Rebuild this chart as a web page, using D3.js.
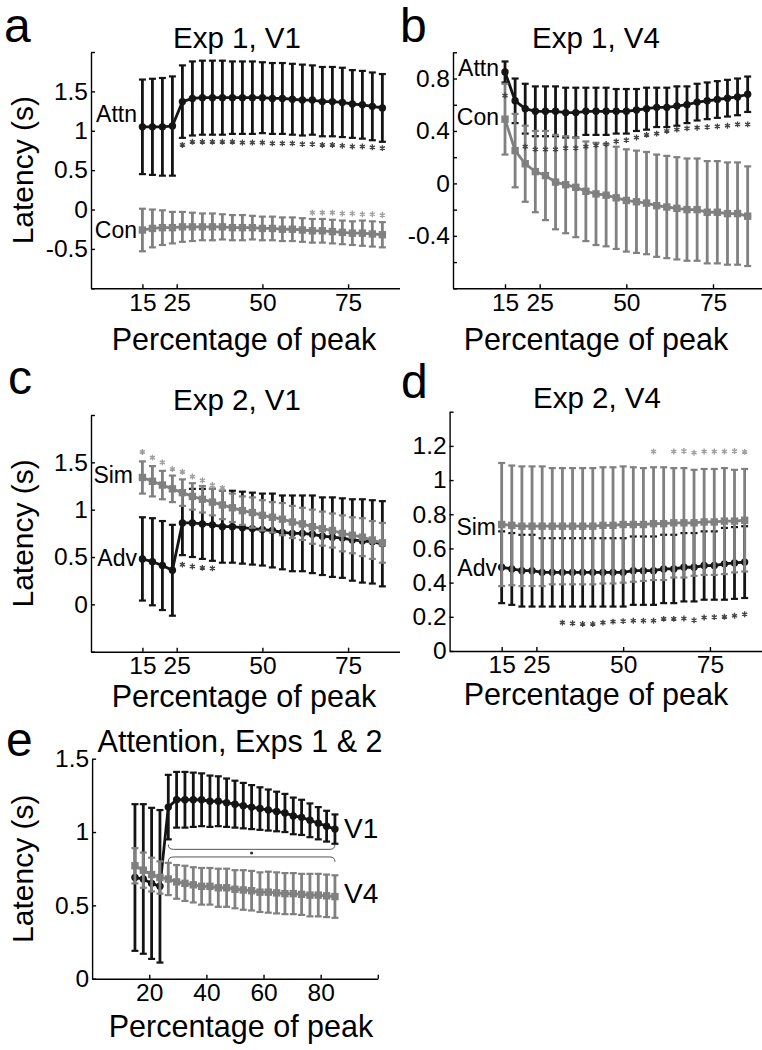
<!DOCTYPE html>
<html><head><meta charset="utf-8">
<script src="https://cdn.jsdelivr.net/npm/d3@7"></script>
<style>
body{margin:0;background:#fff}
svg{display:block}
text{font-family:"Liberation Sans",Arial,Helvetica,sans-serif;fill:#000}
</style>
</head><body>
<svg id="fig" width="762" height="1050"></svg>
<script>
// ---------- DATA ----------
const pct = [15,17.92,20.83,23.75,26.67,29.58,32.5,35.42,38.33,41.25,44.17,47.08,50,52.92,55.83,58.75,61.67,64.58,67.5,70.42,73.33,76.25,79.17,82.08,85];
const xTicks = [15,25,50,75];
const xTicksE = [20,40,60,80,100];
const xTickLabelsE = ["20","40","60","80",""];

// a: Exp 1, V1
const aAttn = [1.05,1.05,1.05,1.06,1.37,1.41,1.42,1.42,1.42,1.42,1.42,1.42,1.42,1.41,1.41,1.40,1.39,1.39,1.37,1.37,1.36,1.34,1.33,1.31,1.29];
const aAttnErr = [0.6,0.61,0.62,0.63,0.46,0.47,0.47,0.47,0.47,0.46,0.46,0.46,0.45,0.45,0.45,0.45,0.45,0.44,0.44,0.44,0.44,0.43,0.43,0.43,0.43];
const aCon = [-0.26,-0.24,-0.23,-0.23,-0.22,-0.22,-0.22,-0.22,-0.22,-0.23,-0.23,-0.23,-0.24,-0.24,-0.25,-0.25,-0.26,-0.27,-0.27,-0.28,-0.29,-0.30,-0.30,-0.31,-0.32];
const aConErr = [0.27,0.24,0.22,0.2,0.19,0.18,0.17,0.17,0.16,0.16,0.16,0.15,0.15,0.15,0.15,0.15,0.15,0.15,0.15,0.15,0.15,0.15,0.16,0.16,0.16];
const aSigAttn = [null,null,null,null,0.82,0.86,0.86,0.86,0.86,0.86,0.85,0.85,0.85,0.84,0.84,0.84,0.83,0.83,0.82,0.82,0.81,0.80,0.80,0.79,0.78];
const aSigCon = [null,null,null,null,null,null,null,null,null,null,null,null,null,null,null,null,null,-0.04,-0.04,-0.04,-0.05,-0.05,-0.06,-0.06,-0.07];
const aYTicks = [-1,-0.5,0,0.5,1,1.5,2];
const aYLabels = ["","-0.5","0","0.5","1","1.5",""];

// b: Exp 1, V4
const bAttn = [0.85,0.63,0.57,0.55,0.55,0.55,0.54,0.54,0.55,0.55,0.55,0.55,0.55,0.56,0.57,0.58,0.58,0.59,0.60,0.62,0.63,0.64,0.65,0.66,0.68];
const bAttnErr = [0.08,0.17,0.19,0.19,0.19,0.19,0.19,0.19,0.18,0.18,0.18,0.17,0.17,0.16,0.16,0.15,0.15,0.15,0.14,0.14,0.14,0.14,0.14,0.14,0.135];
const bCon = [0.49,0.25,0.15,0.09,0.06,0.01,-0.01,-0.03,-0.06,-0.08,-0.09,-0.11,-0.13,-0.14,-0.15,-0.17,-0.18,-0.19,-0.20,-0.20,-0.22,-0.22,-0.23,-0.23,-0.25];
const bConErr = [0.27,0.28,0.29,0.31,0.34,0.36,0.37,0.38,0.38,0.39,0.39,0.39,0.39,0.39,0.39,0.39,0.39,0.39,0.39,0.39,0.39,0.39,0.39,0.39,0.38];
const bSigAttn = [0.67,null,0.28,0.26,0.26,0.26,0.27,0.27,0.28,0.29,0.30,0.32,0.33,0.35,0.37,0.38,0.40,0.41,0.42,0.425,0.43,0.435,0.44,0.45,0.45];
const bYTicks = [-0.8,-0.6,-0.4,-0.2,0,0.2,0.4,0.6,0.8,1.0];
const bYLabels = ["","","-0.4","","0","","0.4","","0.8",""];

// c: Exp 2, V1
const cAdv = [0.48,0.45,0.41,0.36,0.86,0.86,0.85,0.84,0.82,0.82,0.81,0.80,0.79,0.78,0.76,0.75,0.75,0.74,0.72,0.71,0.70,0.68,0.67,0.66,0.64];
const cAdvErr = [0.44,0.46,0.47,0.48,0.34,0.36,0.37,0.38,0.38,0.38,0.38,0.38,0.38,0.39,0.39,0.4,0.4,0.41,0.41,0.42,0.42,0.43,0.44,0.44,0.45];
const cSim = [1.34,1.30,1.26,1.22,1.18,1.14,1.11,1.08,1.05,1.02,0.99,0.97,0.94,0.92,0.90,0.87,0.85,0.82,0.80,0.78,0.75,0.73,0.71,0.68,0.65];
const cSimErr = [0.17,0.16,0.15,0.14,0.14,0.14,0.14,0.14,0.15,0.15,0.15,0.16,0.16,0.16,0.17,0.17,0.17,0.18,0.18,0.18,0.19,0.19,0.2,0.2,0.21];
const cSigSim = [1.61,1.55,1.50,1.43,1.40,1.35,1.31,1.26,1.23,null,null,null,null,null,null,null,null,null,null,null,null,null,null,null,null];
const cSigAdv = [null,null,null,null,0.42,0.40,0.385,0.38,null,null,null,null,null,null,null,null,null,null,null,null,null,null,null,null,null];
const cYTicks = [-0.5,0,0.5,1,1.5,2];
const cYLabels = ["","0","0.5","1","1.5",""];

// d: Exp 2, V4
const dAdv = [0.49,0.48,0.47,0.47,0.46,0.46,0.46,0.46,0.46,0.46,0.46,0.46,0.46,0.47,0.47,0.47,0.48,0.48,0.49,0.49,0.50,0.50,0.51,0.515,0.52];
const dAdvErr = [0.21,0.21,0.21,0.21,0.2,0.2,0.2,0.2,0.2,0.2,0.2,0.2,0.2,0.2,0.2,0.2,0.2,0.2,0.2,0.2,0.2,0.2,0.21,0.21,0.21];
const dSim = [0.74,0.735,0.73,0.73,0.73,0.73,0.73,0.73,0.73,0.73,0.735,0.735,0.74,0.74,0.74,0.745,0.745,0.75,0.75,0.75,0.755,0.755,0.76,0.76,0.765];
const dSimErr = [0.36,0.35,0.35,0.35,0.35,0.34,0.34,0.34,0.34,0.34,0.34,0.34,0.34,0.335,0.33,0.33,0.33,0.32,0.32,0.31,0.31,0.31,0.31,0.3,0.3];
const dSigSim = [null,null,null,null,null,null,null,null,null,null,null,null,null,null,null,1.167,null,1.167,1.17,1.16,1.167,1.167,1.167,1.17,1.165];
const dSigAdv = [null,null,null,null,null,null,0.166,0.162,0.158,0.158,0.166,0.172,0.175,0.177,0.177,0.177,0.188,0.188,0.19,0.18,0.196,0.198,0.2,0.206,0.215];
const dYTicks = [0,0.2,0.4,0.6,0.8,1,1.2,1.4];
const dYLabels = ["0","0.2","0.4","0.6","0.8","1","1.2",""];

// e: Attention, Exps 1 & 2
const eV1 = [0.69,0.68,0.65,0.63,1.17,1.22,1.22,1.22,1.22,1.21,1.21,1.20,1.19,1.18,1.17,1.16,1.15,1.14,1.13,1.11,1.10,1.08,1.06,1.04,1.02];
const eV1Err = [0.5,0.51,0.515,0.52,0.22,0.19,0.19,0.185,0.18,0.175,0.17,0.165,0.16,0.155,0.15,0.145,0.14,0.135,0.13,0.125,0.12,0.115,0.11,0.105,0.1];
const eV4 = [0.77,0.74,0.71,0.69,0.68,0.66,0.65,0.64,0.63,0.63,0.62,0.62,0.61,0.605,0.60,0.59,0.59,0.585,0.58,0.58,0.575,0.57,0.57,0.565,0.56];
const eV4Err = [0.12,0.12,0.115,0.11,0.11,0.115,0.12,0.12,0.125,0.125,0.13,0.13,0.13,0.135,0.135,0.135,0.14,0.14,0.14,0.14,0.14,0.145,0.145,0.145,0.145];
const eYTicks = [0,0.5,1,1.5];
const eYLabels = ["0","0.5","1","1.5"];
const eBracketX = [26.67, 85];
const eBracketUpper = [0.915, 0.882];
const eBracketLower = [0.797, 0.830];
const eBracketStar = 0.857;

// ---------- STYLE ----------
const BLACK = "#141414", GRAY = "#808080";
const SIG_BLACK = "#444", SIG_GRAY = "#a0a0a0";
const FONT_TICK = 24.5, FONT_LAB = 30.5, FONT_YLAB = 30, FONT_TITLE = 29.5, FONT_INNER = 23, FONT_LETTER = 48;

const svg = d3.select("#fig");

function drawSeries(g, x, y, vals, errs, color, marker) {
  const s = g.append("g");
  const cap = 3.5;
  vals.forEach((v, i) => {
    const cx = x(pct[i]);
    const y0 = y(v - errs[i]), y1 = y(v + errs[i]);
    s.append("line").attr("x1", cx).attr("x2", cx).attr("y1", y0).attr("y2", y1)
      .attr("stroke", color).attr("stroke-width", 2.8);
    [y0, y1].forEach(yy => s.append("line").attr("x1", cx - cap).attr("x2", cx + cap)
      .attr("y1", yy).attr("y2", yy).attr("stroke", color).attr("stroke-width", 2.2));
  });
  s.append("path").datum(vals)
    .attr("d", d3.line().x((d, i) => x(pct[i])).y(d => y(d)))
    .attr("fill", "none").attr("stroke", color).attr("stroke-width", 2.8);
  vals.forEach((v, i) => {
    if (marker === "circle") {
      s.append("circle").attr("cx", x(pct[i])).attr("cy", y(v)).attr("r", 3.7).attr("fill", color);
    } else {
      s.append("rect").attr("x", x(pct[i]) - 3.7).attr("y", y(v) - 3.7)
        .attr("width", 7.4).attr("height", 7.4).attr("fill", color);
    }
  });
}

function drawSig(g, x, y, arr, color) {
  const sym = d3.symbol().type(d3.symbolAsterisk).size(24);
  arr.forEach((v, i) => {
    if (v === null) return;
    g.append("path").attr("d", sym()).attr("transform", `translate(${x(pct[i])},${y(v)})`)
      .attr("fill", "none").attr("stroke", color).attr("stroke-width", 1.4);
  });
}

function panel(o) {
  const g = svg.append("g");
  const x = d3.scaleLinear().domain(o.xdom).range([o.left, o.right]);
  const y = d3.scaleLinear().domain(o.ydom).range([o.bottom, o.top]);

  const xa = d3.axisBottom(x).tickValues(o.xticks).tickSize(-4).tickSizeOuter(0).tickPadding(5)
    .tickFormat((d, i) => o.xlabels ? o.xlabels[i] : d3.format("d")(d));
  const gx = g.append("g").attr("transform", `translate(0,${o.bottom})`).call(xa);
  const ya = d3.axisLeft(y).tickValues(o.yticks).tickSize(-4).tickSizeOuter(0).tickPadding(3)
    .tickFormat((d, i) => o.ylabels[i]);
  const gy = g.append("g").attr("transform", `translate(${o.left},0)`).call(ya);
  [gx, gy].forEach(a => {
    a.selectAll("path,line").attr("stroke", "#000").attr("stroke-width", 1.4);
    a.selectAll("text").attr("font-size", FONT_TICK)
      .attr("font-family", '"Liberation Sans",Arial,sans-serif').attr("fill", "#000");
  });

  const plot = g.append("g");
  o.series.forEach(s => drawSeries(plot, x, y, s.vals, s.errs, s.color, s.marker));
  (o.sig || []).forEach(s => drawSig(plot, x, y, s.vals, s.color));

  g.append("text").attr("x", o.titleX).attr("y", o.titleY).attr("text-anchor", "middle")
    .attr("font-size", o.titleSize || FONT_TITLE).text(o.title);
  g.append("text").attr("x", o.letterX).attr("y", o.letterY)
    .attr("font-size", FONT_LETTER).text(o.letter);
  g.append("text").attr("x", o.xlabX).attr("y", o.bottom + o.xlabDy)
    .attr("text-anchor", "middle").attr("font-size", FONT_LAB).text("Percentage of peak");
  if (o.ylab) {
    g.append("text").attr("transform", `translate(${o.ylabX},${(o.top + o.bottom) / 2}) rotate(-90)`)
      .attr("text-anchor", "middle").attr("font-size", FONT_YLAB).text("Latency (s)");
  }
  (o.inner || []).forEach(t => {
    g.append("text").attr("x", t.x).attr("y", t.y).attr("text-anchor", t.anchor || "end")
      .attr("dominant-baseline", "central").attr("font-size", t.size || FONT_INNER).text(t.text);
  });
  return {g, x, y};
}

// ---------- PANELS ----------
panel({
  letter: "a", letterX: 4, letterY: 42, title: "Exp 1, V1", titleX: 237, titleY: 48,
  left: 91, right: 399.5, top: 52, bottom: 288.3, xdom: [0, 90], ydom: [-1, 2],
  xticks: xTicks, yticks: aYTicks, ylabels: aYLabels, ylab: true, ylabX: 33, xlabX: 244, xlabDy: 62,
  series: [
    {vals: aAttn, errs: aAttnErr, color: BLACK, marker: "circle"},
    {vals: aCon, errs: aConErr, color: GRAY, marker: "square"}
  ],
  sig: [{vals: aSigAttn, color: SIG_BLACK}, {vals: aSigCon, color: SIG_GRAY}],
  inner: [{text: "Attn", x: 137, y: 114}, {text: "Con", x: 137, y: 230}]
});

panel({
  letter: "b", letterX: 400, letterY: 42, title: "Exp 1, V4", titleX: 596, titleY: 48,
  left: 453, right: 765, top: 52.3, bottom: 288.3, xdom: [0, 90], ydom: [-0.8, 1.0],
  xticks: xTicks, yticks: bYTicks, ylabels: bYLabels, ylab: false, xlabX: 596, xlabDy: 62,
  series: [
    {vals: bAttn, errs: bAttnErr, color: BLACK, marker: "circle"},
    {vals: bCon, errs: bConErr, color: GRAY, marker: "square"}
  ],
  sig: [{vals: bSigAttn, color: SIG_BLACK}],
  inner: [{text: "Attn", x: 499, y: 68}, {text: "Con", x: 499, y: 117}]
});

panel({
  letter: "c", letterX: 8, letterY: 394, title: "Exp 2, V1", titleX: 237, titleY: 410,
  left: 91, right: 399.5, top: 415, bottom: 651.7, xdom: [0, 90], ydom: [-0.5, 2],
  xticks: xTicks, yticks: cYTicks, ylabels: cYLabels, ylab: true, ylabX: 33, xlabX: 244, xlabDy: 55,
  series: [
    {vals: cAdv, errs: cAdvErr, color: BLACK, marker: "circle"},
    {vals: cSim, errs: cSimErr, color: GRAY, marker: "square"}
  ],
  sig: [{vals: cSigSim, color: SIG_GRAY}, {vals: cSigAdv, color: SIG_BLACK}],
  inner: [{text: "Sim", x: 133, y: 475}, {text: "Adv", x: 137, y: 558}]
});

panel({
  letter: "d", letterX: 401, letterY: 398, title: "Exp 2, V4", titleX: 597, titleY: 408,
  left: 449.6, right: 762, top: 411.7, bottom: 651, xdom: [0, 90], ydom: [0, 1.4],
  xticks: xTicks, yticks: dYTicks, ylabels: dYLabels, ylab: false, xlabX: 596, xlabDy: 54,
  series: [
    {vals: dAdv, errs: dAdvErr, color: BLACK, marker: "circle"},
    {vals: dSim, errs: dSimErr, color: GRAY, marker: "square"}
  ],
  sig: [{vals: dSigSim, color: SIG_GRAY}, {vals: dSigAdv, color: SIG_BLACK}],
  inner: [{text: "Sim", x: 496, y: 527}, {text: "Adv", x: 497, y: 568}]
});

const pe = panel({
  letter: "e", letterX: 6, letterY: 756, title: "Attention, Exps 1 & 2", titleX: 240, titleY: 752, titleSize: 30.5,
  left: 92.1, right: 377.8, top: 758.7, bottom: 978.7, xdom: [0, 100], ydom: [0, 1.5],
  xticks: xTicksE, xlabels: xTickLabelsE, yticks: eYTicks, ylabels: eYLabels, ylab: true, ylabX: 33, xlabX: 241, xlabDy: 58,
  series: [
    {vals: eV1, errs: eV1Err, color: BLACK, marker: "circle"},
    {vals: eV4, errs: eV4Err, color: GRAY, marker: "square"}
  ],
  inner: [{text: "V1", x: 344, y: 828, anchor: "start", size: 28}, {text: "V4", x: 344, y: 893, anchor: "start", size: 28}]
});

// brackets in panel e
(function () {
  const x = pe.x, y = pe.y, g = pe.g;
  const x1 = x(eBracketX[0]), x2 = x(eBracketX[1]);
  const r = 5;
  const br = (yEnd, yLine) => {
    const ye = y(yEnd), yl = y(yLine);
    const p = d3.path();
    p.moveTo(x1, ye);
    p.quadraticCurveTo(x1, yl, x1 + r, yl);
    p.lineTo(x2 - r, yl);
    p.quadraticCurveTo(x2, yl, x2, ye);
    g.append("path").attr("d", p.toString()).attr("fill", "none").attr("stroke", "#555").attr("stroke-width", 1);
  };
  br(eBracketUpper[0], eBracketUpper[1]);
  br(eBracketLower[0], eBracketLower[1]);
  g.append("circle").attr("cx", (x1 + x2) / 2).attr("cy", y(eBracketStar)).attr("r", 1.6).attr("fill", "#333");
})();
</script>
</body></html>
